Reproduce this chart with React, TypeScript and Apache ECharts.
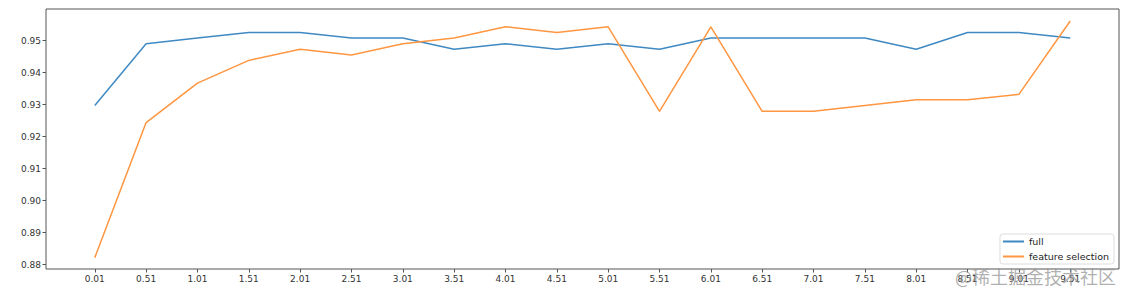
import React, { useEffect, useRef } from "react";
import * as echarts from "echarts";

const xValues = [0.01, 0.51, 1.01, 1.51, 2.01, 2.51, 3.01, 3.51, 4.01, 4.51, 5.01, 5.51, 6.01, 6.51, 7.01, 7.51, 8.01, 8.51, 9.01, 9.51];
const fullValues = [0.9297, 0.949, 0.9508, 0.9525, 0.9525, 0.9508, 0.9508, 0.9473, 0.949, 0.9473, 0.949, 0.9473, 0.9508, 0.9508, 0.9508, 0.9508, 0.9473, 0.9525, 0.9525, 0.9508];
const featureValues = [0.8822, 0.9244, 0.9367, 0.9438, 0.9473, 0.9455, 0.949, 0.9508, 0.9543, 0.9525, 0.9543, 0.9279, 0.9543, 0.9279, 0.9279, 0.9297, 0.9315, 0.9315, 0.9332, 0.9561];
const yTicks = [0.88, 0.89, 0.9, 0.91, 0.92, 0.93, 0.94, 0.95];
const seriesNames = ["full", "feature selection"];
const watermark = "@稀土掘金技术社区";

export default function App() {
  const ref = useRef<HTMLDivElement>(null);
  useEffect(() => {
    if (!ref.current) return;
    const chart = echarts.init(ref.current, undefined, { renderer: "svg" });
    const font = "DejaVu Sans";
    chart.setOption({
      animation: false,
      backgroundColor: "#ffffff",
      grid: {
        left: 46,
        right: 13,
        top: 9,
        bottom: 30,
        show: true,
        borderColor: "#555",
        borderWidth: 1,
        backgroundColor: "transparent",
      },
      xAxis: {
        type: "value",
        min: -0.465,
        max: 9.985,
        axisLine: { show: false, onZero: false },
        splitLine: { show: false },
        axisTick: {
          show: true,
          customValues: xValues,
          length: 3.5,
          lineStyle: { color: "#555" },
        },
        axisLabel: {
          customValues: xValues,
          formatter: (v: number) => v.toFixed(2),
          fontSize: 9,
          fontFamily: font,
          color: "#333",
          margin: 5,
        },
      },
      yAxis: {
        type: "value",
        min: 0.87866,
        max: 0.95986,
        axisLine: { show: false, onZero: false },
        splitLine: { show: false },
        axisTick: {
          show: true,
          customValues: yTicks,
          length: 3.5,
          lineStyle: { color: "#555" },
        },
        axisLabel: {
          customValues: yTicks,
          formatter: (v: number) => v.toFixed(2),
          fontSize: 9,
          fontFamily: font,
          color: "#333",
          margin: 5,
        },
      },
      legend: {
        orient: "vertical",
        right: 18,
        top: 234,
        padding: [2, 5, 2, 3],
        itemWidth: 21,
        itemHeight: 2,
        itemGap: 4,
        borderColor: "#ddd",
        borderWidth: 1,
        borderRadius: 3,
        backgroundColor: "rgba(255,255,255,0.85)",
        textStyle: { fontSize: 9.5, fontFamily: font, color: "#222", lineHeight: 11 },
        data: seriesNames.map((n) => ({ name: n, icon: "rect" })),
      },
      graphic: [
        {
          type: "text",
          left: 955,
          top: 267,
          z: 100,
          style: {
            text: watermark,
            font: '18px "Noto Sans CJK SC"',
            fill: "rgba(150,150,150,0.75)",
          },
        },
      ],
      series: [
        {
          name: seriesNames[0],
          type: "line",
          data: xValues.map((x, i) => [x, fullValues[i]]),
          showSymbol: false,
          symbol: "none",
          color: "#3f89c3",
          lineStyle: { width: 1.5, color: "#3f89c3" },
        },
        {
          name: seriesNames[1],
          type: "line",
          data: xValues.map((x, i) => [x, featureValues[i]]),
          showSymbol: false,
          symbol: "none",
          color: "#ff9641",
          lineStyle: { width: 1.5, color: "#ff9641" },
        },
      ],
    });
    return () => chart.dispose();
  }, []);
  return (
    <div
      ref={ref}
      style={{ position: "fixed", left: 0, top: 0, width: 1132, height: 299 }}
    />
  );
}
